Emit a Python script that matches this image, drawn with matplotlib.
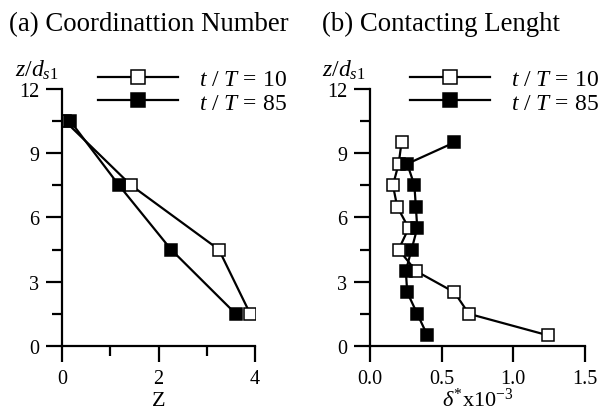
import numpy as np
import matplotlib.pyplot as plt
from matplotlib.ticker import MultipleLocator

plt.rcParams['font.family'] = ['Liberation Serif', 'DejaVu Serif']
plt.rcParams['mathtext.fontset'] = 'custom'
plt.rcParams['mathtext.rm'] = 'Liberation Serif'
plt.rcParams['mathtext.it'] = 'Liberation Serif:italic'

# ----------------------------------------------------------------------
# data
# ----------------------------------------------------------------------

z_a = [10.5, 7.5, 4.5, 1.5]
Z_t10 = [0.06, 1.43, 3.25, 3.9]
Z_t85 = [0.17, 1.18, 2.26, 3.6]

z_b = [9.5, 8.5, 7.5, 6.5, 5.5, 4.5, 3.5, 2.5, 1.5, 0.5]
d_t10 = [0.22, 0.20, 0.16, 0.19, 0.27, 0.20, 0.32, 0.59, 0.69, 1.24]
d_t85 = [0.59, 0.26, 0.31, 0.32, 0.33, 0.29, 0.25, 0.26, 0.33, 0.40]

labels = [r'$t$ / $T$ = 10', r'$t$ / $T$ = 85']


def style(ax, xmax, xmajor, xminor, xfmt):
    ax.set_xlim(0, xmax)
    ax.set_ylim(0, 12)
    for s in ('top', 'right'):
        ax.spines[s].set_visible(False)
    for s in ('left', 'bottom'):
        ax.spines[s].set_linewidth(1.6)
    ax.xaxis.set_major_locator(MultipleLocator(xmajor))
    ax.xaxis.set_minor_locator(MultipleLocator(xminor))
    ax.xaxis.set_major_formatter(xfmt)
    ax.yaxis.set_major_locator(MultipleLocator(3))
    ax.yaxis.set_minor_locator(MultipleLocator(1.5))
    ax.tick_params(which='major', direction='out', length=11.5, width=1.6,
                   labelsize=14.5, pad=5)
    ax.tick_params(which='minor', direction='out', length=7, width=1.6)


fig = plt.figure(figsize=(6.05, 4.14), dpi=100)
ax1 = fig.add_axes([0.1025, 0.162, 0.319, 0.621])
ax2 = fig.add_axes([0.6116, 0.162, 0.355, 0.621])

mk = dict(marker='s', markersize=8.3, color='black', lw=1.6,
          markeredgecolor='black', markeredgewidth=1.1)

ax1.plot(Z_t10, z_a, markerfacecolor='white', label=labels[0], **mk)
ax1.plot(Z_t85, z_a, markerfacecolor='black', label=labels[1], **mk)
ax2.plot(d_t10, z_b, markerfacecolor='white', label=labels[0], **mk)
ax2.plot(d_t85, z_b, markerfacecolor='black', label=labels[1], **mk)

style(ax1, 4, 2, 1, '{x:g}')
style(ax2, 1.5, 0.5, 0.5, '{x:.1f}')

ax1.set_xlabel('Z', fontsize=16, labelpad=2)
ax2.set_xlabel(r'$\delta^{*}$x10$^{-3}$', fontsize=16, labelpad=0)

for ax in (ax1, ax2):
    ax.legend(loc='upper left', bbox_to_anchor=(0.186, 1.078), frameon=False,
              fontsize=17, handlelength=3.4, handletextpad=0.9,
              labelspacing=0.08, borderaxespad=0, borderpad=0,
              markerscale=1.15)

fig.text(0.025, 0.831, r'$z/d_{s1}$', fontsize=17, va='center')
fig.text(0.532, 0.831, r'$z/d_{s1}$', fontsize=17, va='center')

fig.text(0.015, 0.94, '(a) Coordinattion Number', fontsize=19.3, va='center')
fig.text(0.532, 0.94, '(b) Contacting Lenght', fontsize=19.3, va='center')

plt.savefig('out.png', dpi=100)
